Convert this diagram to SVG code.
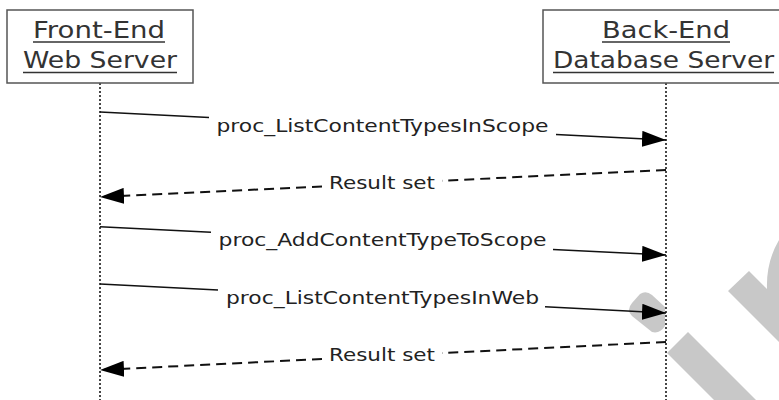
<svg xmlns="http://www.w3.org/2000/svg" width="779" height="400" viewBox="0 0 779 400">
  <style>
    .box { fill: #ffffff; stroke: #555555; stroke-width: 1.5; }
    .head { font-family: "DejaVu Sans", Verdana, sans-serif; font-size: 23px; fill: #333333; }
    .ul { stroke: #333333; stroke-width: 1.3; }
    .life { stroke: #333333; stroke-width: 1.8; stroke-dasharray: 2 2; fill: none; }
    .msg { stroke: #111111; stroke-width: 1.5; fill: none; }
    .ret { stroke: #111111; stroke-width: 2; stroke-dasharray: 10 6; fill: none; }
    .lbl { font-family: "DejaVu Sans", Verdana, sans-serif; font-size: 17.5px; fill: #222222; }
    .wm { fill: #c8c8c8; stroke: none; }
  </style>
  <defs>
    <marker id="arrow" markerUnits="userSpaceOnUse" markerWidth="24" markerHeight="16" viewBox="0 0 24 16" refX="24" refY="8" orient="auto">
      <path d="M0,0 L24,8 L0,16 Z" fill="#000000"/>
    </marker>
  </defs>
  <rect width="779" height="400" fill="#ffffff"/>

  <g id="watermark">
    <path class="wm" d="M640,294 Q646,290 652,295 L665,307 L665,326 Q660,334 652,332 L632,316 Q626,310 632,303 Z"/>
    <polygon class="wm" points="667,353 688,332 756,400 714,400"/>
    <path class="wm" d="M728,291 L749,271 L767,289 Q766,262 779,240 L779,342 Z"/>
  </g>

  <g id="lifelines">
    <line class="life" x1="100" y1="83" x2="100" y2="400"/>
    <line class="life" x1="666" y1="83" x2="666" y2="400"/>
  </g>

  <g id="node-frontend">
    <rect class="box" x="7" y="10" width="186" height="73"/>
    <text class="head" x="33" y="38" textLength="132" lengthAdjust="spacingAndGlyphs">Front-End</text>
    <line class="ul" x1="33" y1="42" x2="165" y2="42"/>
    <text class="head" x="23" y="68" textLength="154" lengthAdjust="spacingAndGlyphs">Web Server</text>
    <line class="ul" x1="23" y1="72.5" x2="177" y2="72.5"/>
  </g>

  <g id="node-backend">
    <rect class="box" x="543" y="10" width="243" height="73"/>
    <text class="head" x="602" y="38" textLength="128" lengthAdjust="spacingAndGlyphs">Back-End</text>
    <line class="ul" x1="602" y1="42" x2="730" y2="42"/>
    <text class="head" x="553" y="68" textLength="221" lengthAdjust="spacingAndGlyphs">Database Server</text>
    <line class="ul" x1="553" y1="72.5" x2="774" y2="72.5"/>
  </g>

  <g id="connectors">
    <line class="msg" x1="100" y1="112" x2="209" y2="117.4"/>
    <line class="msg" x1="556" y1="134.6" x2="666" y2="140" marker-end="url(#arrow)"/>

    <line class="ret" x1="666" y1="170" x2="442" y2="180.7"/>
    <line class="ret" x1="322" y1="186.4" x2="100" y2="197" marker-end="url(#arrow)"/>

    <line class="msg" x1="100" y1="226.7" x2="211" y2="232.3"/>
    <line class="msg" x1="553" y1="249.4" x2="666" y2="255" marker-end="url(#arrow)"/>

    <line class="msg" x1="100" y1="284" x2="218" y2="290"/>
    <line class="msg" x1="545" y1="306.8" x2="666" y2="313" marker-end="url(#arrow)"/>

    <line class="ret" x1="666" y1="342" x2="442" y2="353.1"/>
    <line class="ret" x1="322" y1="359" x2="100" y2="370" marker-end="url(#arrow)"/>
  </g>

  <g id="labels">
    <text class="lbl" x="216.5" y="131.5" textLength="332" lengthAdjust="spacingAndGlyphs">proc_ListContentTypesInScope</text>
    <text class="lbl" x="329" y="188.5" textLength="106" lengthAdjust="spacingAndGlyphs">Result set</text>
    <text class="lbl" x="218.5" y="245.5" textLength="328" lengthAdjust="spacingAndGlyphs">proc_AddContentTypeToScope</text>
    <text class="lbl" x="226" y="304" textLength="313" lengthAdjust="spacingAndGlyphs">proc_ListContentTypesInWeb</text>
    <text class="lbl" x="329" y="360.5" textLength="106" lengthAdjust="spacingAndGlyphs">Result set</text>
  </g>
</svg>
